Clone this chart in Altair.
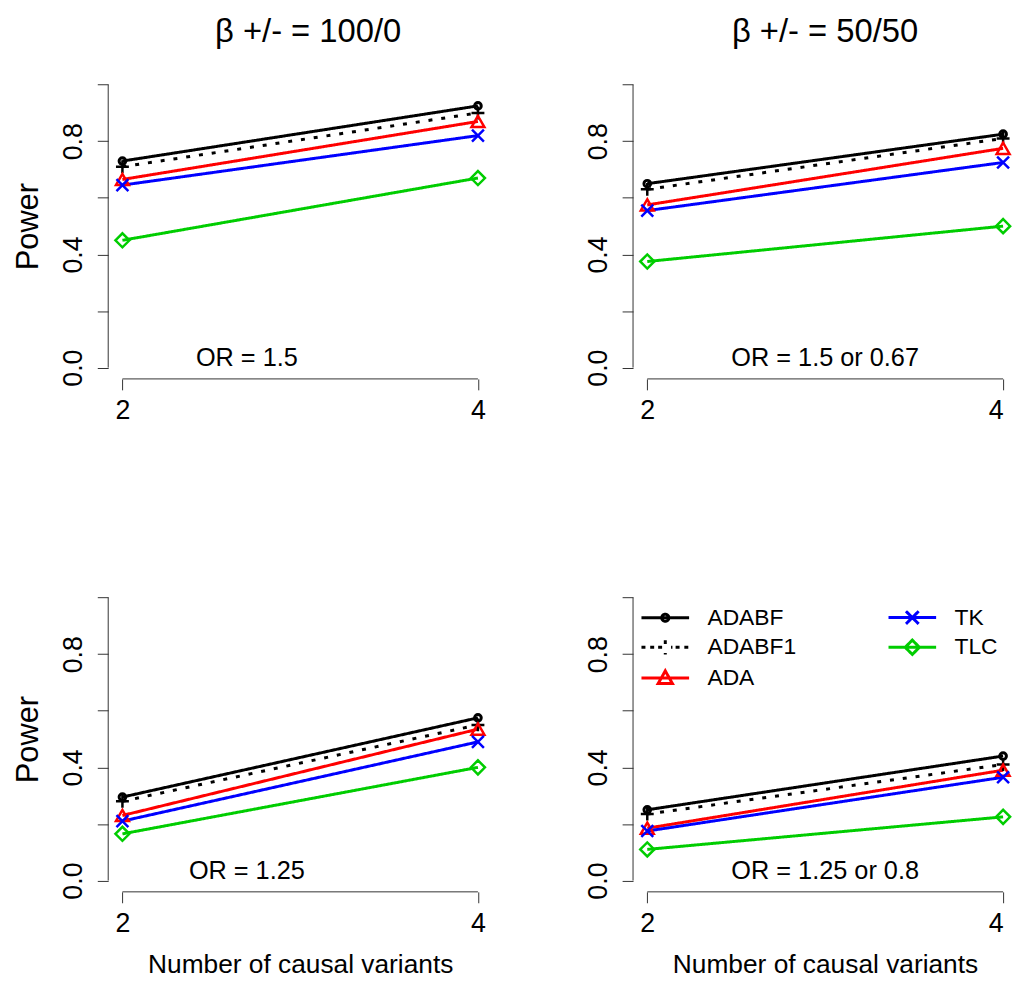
"""Power of ADABF / ADABF1 / ADA / TK / TLC versus number of causal variants"""

import altair as alt
import pandas as pd

# ---- values ----
methods = ["ADABF", "ADABF1", "ADA", "TK", "TLC"]
method_colors = ["#000000", "#000000", "#ff0000", "#0000ff", "#00cd00"]
n_causal = [2, 4]

# power at 2 and 4 causal variants; rows follow `methods`
power_or15 = [[0.73, 0.925], [0.71, 0.90], [0.665, 0.87], [0.645, 0.82], [0.45, 0.67]]
power_or15_067 = [[0.65, 0.825], [0.63, 0.81], [0.575, 0.775], [0.555, 0.725], [0.375, 0.50]]
power_or125 = [[0.295, 0.575], [0.28, 0.55], [0.23, 0.535], [0.21, 0.49], [0.165, 0.40]]
power_or125_08 = [[0.25, 0.44], [0.235, 0.41], [0.185, 0.39], [0.175, 0.365], [0.11, 0.225]]

col_titles = ["β +/- = 100/0", "β +/- = 50/50"]
or_labels = ["OR = 1.5", "OR = 1.5 or 0.67", "OR = 1.25", "OR = 1.25 or 0.8"]
y_ticks = [0.0, 0.2, 0.4, 0.6, 0.8, 1.0]
y_labelled = ["0.0", "0.4", "0.8"]

# ---- styling ----
FONT = "Liberation Sans"
AXIS_COLOR = "#333333"
PLOT_H = 308
color_of = dict(zip(methods, method_colors))

PLUS = "M-1,0H1M0,-1V1"
CROSS = "M-1,-1L1,1M-1,1L1,-1"
point_shapes = ["circle", PLUS, "triangle-up", CROSS, "diamond"]
point_sizes = [45, 169, 169, 144, 200]
dashes = [[1, 0], [4, 9], [1, 0], [1, 0], [1, 0]]

# legend keys: short line segment with the marker drawn on it
legend_paths = {
    "ADABF": "M-3,0H3M0.45,0A0.45,0.45,0,1,1,-0.45,0A0.45,0.45,0,1,1,0.45,0",
    "ADABF1": "M-3,0H-2.4M-1.9,0H-1.3M1.3,0H1.9M2.4,0H3M-0.9,0H0.9M0,-0.9V0.9",
    "ADA": "M-3,0H3M0,-0.9L0.9,0.7L-0.9,0.7Z",
    "TK": "M-3,0H3M-0.8,-0.8L0.8,0.8M-0.8,0.8L0.8,-0.8",
    "TLC": "M-3,0H3M0,-0.9L0.9,0L0,0.9L-0.9,0Z",
}


def _panel(power, note, note_x, col, bottom, show_legend=False):
    left = col == 0
    width = 387 if left else 373
    x_max = 4.08 if left else 4.0

    df = pd.DataFrame(
        [{"method": m, "variants": v, "power": p}
         for m, pair in zip(methods, power) for v, p in zip(n_causal, pair)]
    )
    xs = alt.Scale(domain=[1.92, x_max], nice=False, zero=False)
    ys = alt.Scale(domain=[-0.04, 1.04], nice=False, zero=False)
    color_scale = alt.Scale(domain=methods, range=method_colors)

    x_axis = alt.Axis(
        values=n_causal, domain=False, grid=False, tickSize=11, tickColor=AXIS_COLOR,
        labelFont=FONT, labelFontSize=27, labelColor="black", labelPadding=8,
        labelFlush=not left,  # keeps the right-hand "4" inside the page
        title="Number of causal variants" if bottom else None,
        titleFont=FONT, titleFontSize=26.5, titleFontWeight="normal", titleColor="black",
        titlePadding=15, titleX=193.5,
    )
    y_axis = alt.Axis(
        values=y_ticks, domain=False, grid=False, tickSize=11, tickColor=AXIS_COLOR,
        labelExpr=f"indexof({y_labelled}, format(datum.value, '.1f')) >= 0 ? format(datum.value, '.1f') : ''",
        labelFont=FONT, labelFontSize=27, labelColor="black", labelAngle=270,
        labelAlign="center", labelBaseline="alphabetic", labelPadding=16,
        title="Power" if left else None,
        titleFont=FONT, titleFontSize=31, titleFontWeight="normal", titleColor="black",
        titlePadding=15,
    )

    def xq(field):
        return alt.X(field, type="quantitative", scale=xs, axis=x_axis)

    def yq(field):
        return alt.Y(field, type="quantitative", scale=ys, axis=y_axis)

    legend = None
    if show_legend:
        # Vega fills the two legend columns top-to-bottom
        legend = alt.Legend(
            title=None, orient="none", legendX=6, legendY=20, columns=2, direction="vertical",
            padding=0, columnPadding=86, rowPadding=4,
            labelFont=FONT, labelFontSize=23, labelColor="black", labelOffset=31,
            symbolSize=256, symbolStrokeWidth=3, symbolOffset=15, symbolOpacity=1,
        )
    color = alt.Color("method:N", scale=color_scale, legend=legend)

    base = alt.Chart(df)

    # R-style axis lines that stop at the first and last tick
    x_line = alt.Chart(pd.DataFrame({"a": [min(n_causal)], "b": [max(n_causal)]})).mark_rule(
        color=AXIS_COLOR, strokeWidth=1
    ).encode(x=xq("a"), x2="b:Q", y=alt.value(PLOT_H))
    y_line = alt.Chart(pd.DataFrame({"a": [min(y_ticks)], "b": [max(y_ticks)]})).mark_rule(
        color=AXIS_COLOR, strokeWidth=1
    ).encode(y=yq("a"), y2="b:Q", x=alt.value(0))

    lines = base.mark_line(strokeWidth=3).encode(
        x=xq("variants"),
        y=yq("power"),
        color=color,
        strokeDash=alt.StrokeDash("method:N", scale=alt.Scale(domain=methods, range=dashes), legend=None),
        detail="method:N",
    )
    layers = [x_line, y_line, lines]
    for m, shape, size in zip(methods, point_shapes, point_sizes):
        layers.append(
            base.transform_filter(alt.datum.method == m)
            .mark_point(filled=False, strokeWidth=3 if m == "ADABF" else 2.5, opacity=1,
                        shape=shape, size=size, color=color_of[m])
            .encode(x=xq("variants"), y=yq("power"))
        )

    layers.append(
        alt.Chart(pd.DataFrame({"x": [note_x], "y": [0.035], "t": [note]})).mark_text(
            font=FONT, fontSize=25.5, color="black", align="center", baseline="middle"
        ).encode(x=xq("x"), y=yq("y"), text="t:N")
    )

    if show_legend:
        # draws no marks; it only carries the legend keys
        layers.append(
            base.transform_filter("false")
            .mark_point(filled=False, strokeWidth=3, size=256, opacity=1)
            .encode(
                x=xq("variants"), y=yq("power"),
                color=color,
                shape=alt.Shape(
                    "method:N",
                    scale=alt.Scale(domain=methods, range=[legend_paths[m] for m in methods]),
                    legend=legend,
                ),
            )
        )

    chart = alt.layer(*layers).properties(width=width, height=PLOT_H)
    if not bottom:
        chart = chart.properties(title=alt.TitleParams(
            col_titles[col], font=FONT, fontSize=33, fontWeight="normal", color="black",
            offset=25, dx=8 if left else 7,
        ))
    return chart


RES = dict(x="independent", y="independent", color="independent", shape="independent", strokeDash="independent")

top = alt.hconcat(
    _panel(power_or15, or_labels[0], 2.7, 0, False),
    _panel(power_or15_067, or_labels[1], 3.0, 1, False),
    spacing=93,
).resolve_scale(**RES)
bottom = alt.hconcat(
    _panel(power_or125, or_labels[2], 2.7, 0, True),
    _panel(power_or125_08, or_labels[3], 3.0, 1, True, show_legend=True),
    spacing=93,
).resolve_scale(**RES)

chart = (
    alt.vconcat(top, bottom, spacing=164)
    .resolve_scale(**RES)
    .properties(padding={"left": 5, "top": 4, "right": 0, "bottom": 0})
    .configure(background="white")
    .configure_view(stroke=None)
)

chart.save("out.html", embed_options={"renderer": "svg", "actions": False})
